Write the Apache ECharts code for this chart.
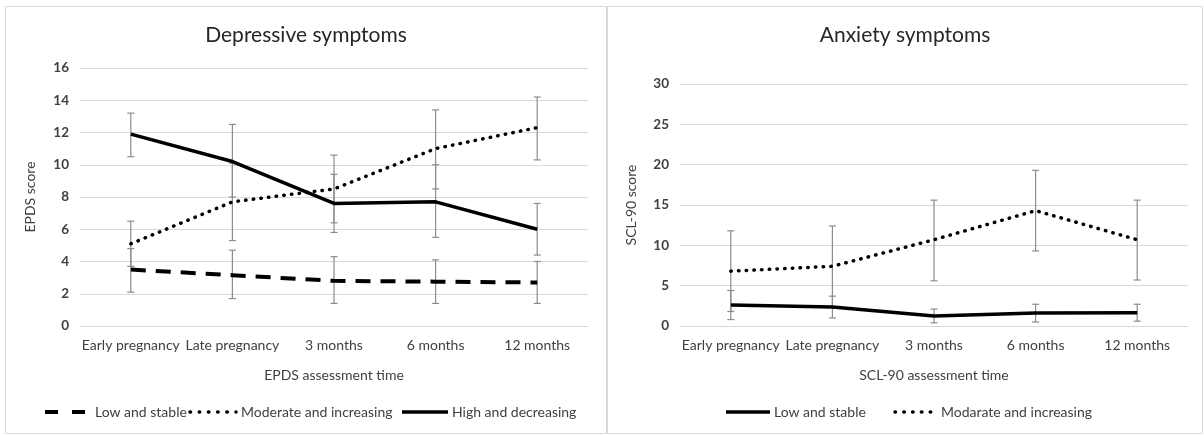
<!DOCTYPE html>
<html>
<head>
<meta charset="utf-8">
<script src="https://cdn.jsdelivr.net/npm/echarts@6/dist/echarts.min.js"></script>
<style>html,body{margin:0;padding:0;background:#fff;}#c{width:1204px;height:435px;}</style>
</head>
<body>
<div id="c"></div>
<script>
const categories = ['Early pregnancy', 'Late pregnancy', '3 months', '6 months', '12 months'];

// EPDS (depressive symptoms)
const epdsLow    = [3.5, 3.15, 2.8, 2.75, 2.7];
const epdsLowLo  = [2.1, 1.7, 1.4, 1.4, 1.4];
const epdsLowHi  = [4.8, 4.7, 4.3, 4.1, 4.0];
const epdsMod    = [5.1, 7.7, 8.5, 11.0, 12.3];
const epdsModLo  = [3.7, 5.3, 6.4, 8.5, 10.3];
const epdsModHi  = [6.5, 10.1, 10.6, 13.4, 14.2];
const epdsHigh   = [11.9, 10.2, 7.6, 7.7, 6.0];
const epdsHighLo = [10.5, 8.0, 5.8, 5.5, 4.4];
const epdsHighHi = [13.2, 12.5, 9.4, 10.0, 7.6];

// SCL-90 (anxiety symptoms)
const sclLow   = [2.6, 2.35, 1.25, 1.6, 1.65];
const sclLowLo = [0.8, 1.0, 0.4, 0.5, 0.6];
const sclLowHi = [4.4, 3.7, 2.1, 2.7, 2.7];
const sclMod   = [6.8, 7.4, 10.7, 14.3, 10.7];
const sclModLo = [1.8, 2.4, 5.6, 9.3, 5.7];
const sclModHi = [11.8, 12.4, 15.6, 19.3, 15.6];

const epdsAxis = { min: 0, max: 16, interval: 2 };
const sclAxis  = { min: 0, max: 30, interval: 5 };

const epdsNames = ['Low and stable', 'Moderate and increasing', 'High and decreasing'];
const sclNames  = ['Low and stable', 'Modarate and increasing'];

const FONT = 'Lato';
const TXT = '#404040';
const styleDash = { color: '#000', width: 4, type: [15, 10], cap: 'butt' };
const styleDot  = { color: '#000', width: 3.5, type: [0.5, 7.2], cap: 'round' };
const styleSolid= { color: '#000', width: 3.5, type: 'solid' };

function errBars(name, idx, lo, hi) {
  return {
    type: 'custom', name: name, xAxisIndex: idx, yAxisIndex: idx, z: 1, silent: true,
    data: categories.map((c, i) => [i, lo[i], hi[i]]),
    encode: { x: 0, y: [1, 2] },
    renderItem: function (params, api) {
      const x = api.value(0);
      const a = api.coord([x, api.value(1)]);
      const b = api.coord([x, api.value(2)]);
      const w = 3.5;
      const st = { stroke: '#8c8c8c', lineWidth: 1.2 };
      return { type: 'group', children: [
        { type: 'line', shape: { x1: a[0], y1: a[1], x2: b[0], y2: b[1] }, style: st },
        { type: 'line', shape: { x1: a[0] - w, y1: a[1], x2: a[0] + w, y2: a[1] }, style: st },
        { type: 'line', shape: { x1: b[0] - w, y1: b[1], x2: b[0] + w, y2: b[1] }, style: st }
      ]};
    }
  };
}
function lineSeries(name, idx, data, ls) {
  return { type: 'line', name: name, xAxisIndex: idx, yAxisIndex: idx, z: 3,
    data: data, symbol: 'none', lineStyle: ls, itemStyle: { color: '#000' }, silent: true };
}
function xAxis(idx, name) {
  return { type: 'category', gridIndex: idx, data: categories, boundaryGap: true,
    name: name, nameLocation: 'middle', nameGap: 42,
    nameTextStyle: { fontFamily: FONT, fontSize: 14, color: TXT },
    axisLine: { lineStyle: { color: '#d9d9d9', width: 1 } }, axisTick: { show: false },
    axisLabel: { fontFamily: FONT, fontSize: 14, color: TXT, margin: 12, interval: 0 } };
}
function yAxis(idx, name, ax, gap) {
  return { type: 'value', gridIndex: idx, min: ax.min, max: ax.max, interval: ax.interval,
    name: name, nameLocation: 'middle', nameGap: gap,
    nameTextStyle: { fontFamily: FONT, fontSize: 14, color: TXT },
    axisLine: { show: false }, axisTick: { show: false },
    splitLine: { lineStyle: { color: '#d9d9d9', width: 1 } },
    axisLabel: { fontFamily: FONT, fontSize: 13.5, color: TXT, fontWeight: 'bold', margin: 11 } };
}
// legend drawn as graphic (icon segment + text)
function legendIcon(x1, x2, y, ls) {
  return { type: 'line', shape: { x1: x1, y1: y, x2: x2, y2: y },
    style: { stroke: '#000', lineWidth: ls.width, lineDash: ls.type === 'solid' ? null : ls.type, lineCap: ls.cap || 'butt' } };
}
function legendText(x, y, t) {
  return { type: 'text', x: x, y: y, style: { text: t, fontFamily: FONT, fontSize: 14, fill: TXT, textVerticalAlign: 'middle' } };
}
const LY = 412;

const chart = echarts.init(document.getElementById('c'), null, { renderer: 'canvas' });
chart.setOption({
  animation: false,
  graphic: [
    { type: 'rect', shape: { x: 5.5, y: 6.5, width: 601, height: 427 }, style: { fill: 'none', stroke: '#d9d9d9', lineWidth: 1 } },
    { type: 'rect', shape: { x: 607.5, y: 6.5, width: 595, height: 427 }, style: { fill: 'none', stroke: '#d9d9d9', lineWidth: 1 } },
    { type: 'text', x: 306, y: 35, style: { text: 'Depressive symptoms', fontFamily: FONT, fontSize: 21, fill: '#262626', textAlign: 'center', textVerticalAlign: 'middle' } },
    { type: 'text', x: 905, y: 35, style: { text: 'Anxiety symptoms', fontFamily: FONT, fontSize: 21, fill: '#262626', textAlign: 'center', textVerticalAlign: 'middle' } },
    legendIcon(45, 86, LY, { width: 4, type: [13, 14], cap: 'butt' }),
    legendText(95, LY, epdsNames[0]),
    legendIcon(190, 236, LY, { width: 3.5, type: [0.5, 8.7], cap: 'round' }),
    legendText(241, LY, epdsNames[1]),
    legendIcon(402, 448, LY, styleSolid),
    legendText(452, LY, epdsNames[2]),
    legendIcon(726, 770, LY, styleSolid),
    legendText(774, LY, sclNames[0]),
    legendIcon(895, 937, LY, { width: 3.5, type: [0.5, 8.3], cap: 'round' }),
    legendText(941, LY, sclNames[1])
  ],
  grid: [
    { left: 80, top: 68, width: 508, height: 258 },
    { left: 680, top: 84, width: 508, height: 242 }
  ],
  xAxis: [ xAxis(0, 'EPDS assessment time'), xAxis(1, 'SCL-90 assessment time') ],
  yAxis: [ yAxis(0, 'EPDS score', epdsAxis, 43), yAxis(1, 'SCL-90 score', sclAxis, 42) ],
  series: [
    errBars('e1', 0, epdsLowLo, epdsLowHi),
    errBars('e2', 0, epdsModLo, epdsModHi),
    errBars('e3', 0, epdsHighLo, epdsHighHi),
    lineSeries(epdsNames[0], 0, epdsLow, styleDash),
    lineSeries(epdsNames[1], 0, epdsMod, styleDot),
    lineSeries(epdsNames[2], 0, epdsHigh, styleSolid),
    errBars('s1', 1, sclLowLo, sclLowHi),
    errBars('s2', 1, sclModLo, sclModHi),
    lineSeries(sclNames[0], 1, sclLow, styleSolid),
    lineSeries(sclNames[1], 1, sclMod, styleDot)
  ]
});
</script>
</body>
</html>
